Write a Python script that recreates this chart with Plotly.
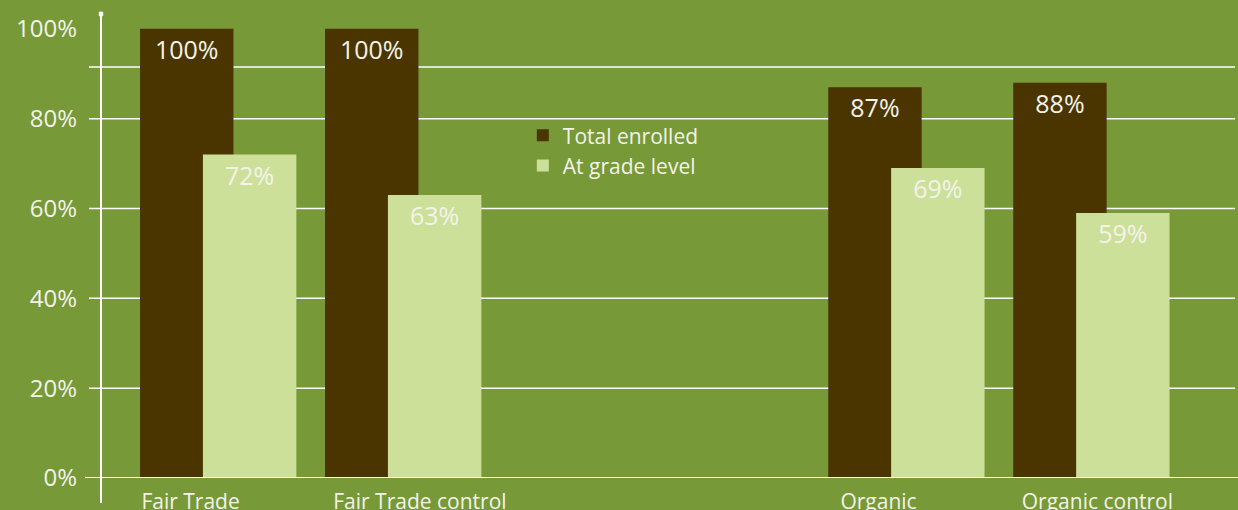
import plotly.graph_objects as go

# School enrolment data by group
groups = ["Fair Trade", "Fair Trade control", "Organic", "Organic control"]
total_enrolled = [100, 100, 87, 88]
at_grade_level = [72, 63, 69, 59]

# Horizontal placement of the groups and their labels (axis units)
group_pos = [0, 1, 3.72, 4.72]
label_pos = [-0.151, 1.089, 3.568, 4.751]

y_tick_vals = [0, 20, 40, 60, 80, 100]
y_tick_text = ["0%", "20%", "40%", "60%", "80%", "100%"]
grid_levels = [20, 40, 60, 80, 91.5]

BG = "#779937"
DARK = "#4a3500"
LIGHT = "#cde099"
INK = "#f3f3ea"
FONT = "Open Sans"

BAR_W = 0.505


def pct(values):
    return [f"{v}%" for v in values]


fig = go.Figure()
fig.add_trace(go.Bar(
    x=group_pos, y=total_enrolled, name="Total enrolled",
    width=BAR_W, offset=-0.424, marker=dict(color=DARK, line=dict(width=0)),
    text=pct(total_enrolled), texttemplate="%{text}",
    textposition="inside", insidetextanchor="end",
    textangle=0, insidetextfont=dict(size=25, color=INK, family=FONT),
    hoverinfo="skip",
))
fig.add_trace(go.Bar(
    x=group_pos, y=at_grade_level, name="At grade level",
    width=BAR_W, offset=-0.084, marker=dict(color=LIGHT, line=dict(width=0)),
    text=pct(at_grade_level), texttemplate="%{text}",
    textposition="inside", insidetextanchor="end",
    textangle=0, insidetextfont=dict(size=25, color=INK, family=FONT),
    hoverinfo="skip",
))

# gridlines with short outside ticks
for g in grid_levels:
    fig.add_shape(type="line", xref="paper", yref="y",
                  x0=-0.0106, x1=0.9974, y0=g, y1=g,
                  line=dict(color="white", width=1.5), layer="below")

# crossing axis lines
fig.add_shape(type="line", xref="paper", yref="y", x0=-0.0141, x1=1, y0=0, y1=0,
              line=dict(color="white", width=2))
fig.add_shape(type="line", xref="paper", yref="paper", x0=0, x1=0, y0=-0.054, y1=1,
              line=dict(color="white", width=2))
fig.add_shape(type="rect", xref="paper", yref="paper", x0=-0.0015, x1=0.0015,
              y0=0.996, y1=1.004, line=dict(color="white", width=1), fillcolor="white")

fig.update_layout(
    width=1238, height=510,
    margin=dict(l=101, r=0, t=14, b=32, autoexpand=False),
    paper_bgcolor=BG, plot_bgcolor=BG,
    barmode="overlay",
    font=dict(family=FONT, color=INK, size=22),
    showlegend=True,
    legend=dict(x=0.371, y=0.782, xanchor="left", yanchor="top",
                bgcolor="rgba(0,0,0,0)", font=dict(size=21, color=INK, family=FONT),
                tracegroupgap=0, itemwidth=30),
    xaxis=dict(range=[-0.635, 5.511], tickvals=label_pos, ticktext=groups,
               showgrid=False, zeroline=False, showline=False, ticks="",
               tickfont=dict(size=21, color=INK), ticklabelstandoff=9,
               automargin=False, fixedrange=True),
    yaxis=dict(range=[0, 103.3], tickvals=y_tick_vals, ticktext=y_tick_text,
               showgrid=False, zeroline=False, showline=False, ticks="",
               tickfont=dict(size=24, color=INK), ticklabelstandoff=23,
               automargin=False, fixedrange=True),
)

fig.write_html("out.html")
